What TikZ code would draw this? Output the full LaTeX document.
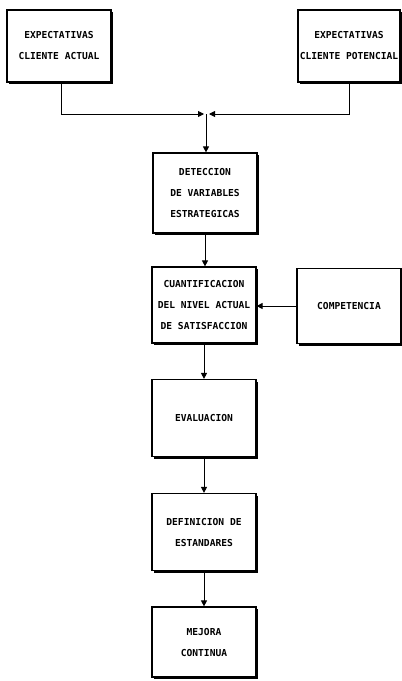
\documentclass[tikz,border=0pt]{standalone}
\usepackage{fontspec}
\newfontfamily\boxfont{DejaVu Sans Mono}
\usetikzlibrary{arrows.meta,shadows}

\begin{document}
\begin{tikzpicture}[x=1pt,y=-1pt,
    caja/.style={draw,line width=1.2pt,fill=white,minimum width=104pt,
        align=center,inner sep=0pt,
        font={\boxfont\bfseries\fontsize{9.6}{21}\selectfont},
        drop shadow={shadow xshift=1.6pt,shadow yshift=-2pt,fill=black,opacity=1}},
    flecha/.style={line width=0.9pt,-{Triangle[length=6pt,width=6pt]}}]
            \useasboundingbox (0,0) rectangle (402,681);

            % expectativas de los clientes
            \node[caja,minimum height=72pt] (expA) at (59,46) {EXPECTATIVAS\\CLIENTE ACTUAL};
            \node[caja,minimum width=102pt,minimum height=72pt] (expP) at (349,46) {EXPECTATIVAS\\CLIENTE POTENCIAL};

            % cadena central
            \node[caja,minimum height=80pt] (detec) at (205,193) {DETECCION\\DE VARIABLES\\ESTRATEGICAS};
            \node[caja,minimum height=76pt] (cuant) at (204,305) {CUANTIFICACION\\DEL NIVEL ACTUAL\\DE SATISFACCION};
            \node[caja,minimum height=75pt] (compet) at (349,306) {COMPETENCIA};
            \node[caja,minimum height=77pt] (evalu) at (204,418) {EVALUACION};
            \node[caja,minimum height=77pt] (defin) at (204,532) {DEFINICION DE\\ESTANDARES};
            \node[caja,minimum height=70pt] (mejora) at (204,642) {MEJORA\\CONTINUA};

            % union de las expectativas
            \coordinate (junc) at (206,114);
            \draw[flecha] ([xshift=2pt]expA.south) |- ([xshift=-2pt]junc);
            \draw[flecha] (expP.south) |- ([xshift=3pt]junc);
            \draw[flecha] (junc) -- (junc |- detec.north);

            % flechas entre cajas
            \draw[flecha] (detec.south) -- (detec.south |- cuant.north);
            \draw[flecha] (compet.west) -- (compet.west -| cuant.east);
            \draw[flecha] (cuant.south) -- (evalu.north);
            \draw[flecha] (evalu.south) -- (defin.north);
            \draw[flecha] (defin.south) -- (mejora.north);

        \end{tikzpicture}
\end{document}
